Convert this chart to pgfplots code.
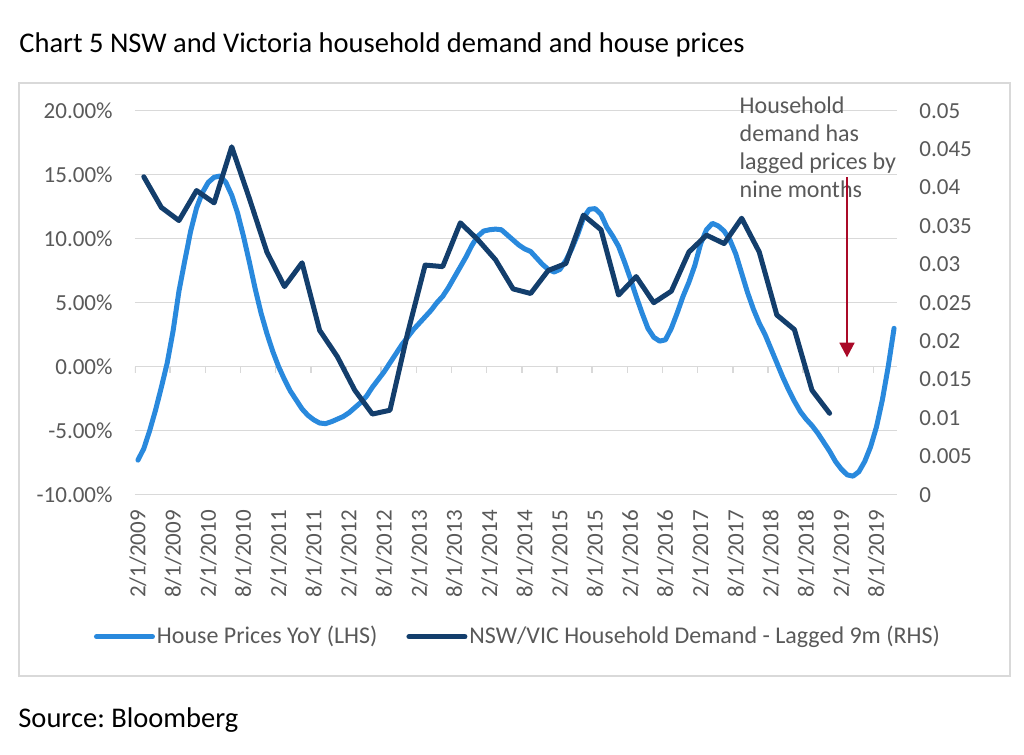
\documentclass[border=0pt]{standalone}
\usepackage{fontspec}
\setmainfont{Carlito}
\usepackage{pgfplots}
\pgfplotsset{compat=1.18}
\usetikzlibrary{arrows.meta}
\definecolor{lightblue}{RGB}{41,137,221}
\definecolor{darkblue}{RGB}{19,62,108}
\definecolor{gray59}{RGB}{89,89,89}
\definecolor{gridgray}{RGB}{217,217,217}
\definecolor{arrowred}{RGB}{170,10,40}

\pgfplotstableread{
m v
0 -7.3
1 -6.4
2 -5.0
3 -3.4
4 -1.6
5 0.3
6 2.8
7 5.9
8 8.3
9 10.6
10 12.4
11 13.6
12 14.4
13 14.8
14 14.9
15 14.4
16 13.4
17 12.0
18 10.2
19 8.2
20 6.1
21 4.2
22 2.6
23 1.2
24 0.0
25 -1.0
26 -1.9
27 -2.6
28 -3.3
29 -3.8
30 -4.15
31 -4.4
32 -4.45
33 -4.3
34 -4.1
35 -3.9
36 -3.6
37 -3.2
38 -2.8
39 -2.3
40 -1.6
41 -1.0
42 -0.4
43 0.3
44 1.0
45 1.7
46 2.3
47 2.9
48 3.4
49 3.9
50 4.4
51 5.0
52 5.5
53 6.2
54 7.0
55 7.8
56 8.6
57 9.5
58 10.2
59 10.6
60 10.7
61 10.75
62 10.7
63 10.3
64 9.9
65 9.5
66 9.2
67 9.0
68 8.5
69 8.0
70 7.6
71 7.4
72 7.6
73 8.3
74 9.2
75 10.3
76 11.6
77 12.3
78 12.35
79 11.9
80 10.9
81 10.2
82 9.4
83 8.2
84 6.9
85 5.5
86 4.2
87 3.0
88 2.3
89 2.0
90 2.1
91 3.0
92 4.2
93 5.5
94 6.6
95 7.9
96 9.6
97 10.7
98 11.2
99 11.0
100 10.6
101 9.9
102 8.8
103 7.3
104 5.8
105 4.5
106 3.4
107 2.5
108 1.4
109 0.3
110 -0.8
111 -1.8
112 -2.7
113 -3.5
114 -4.1
115 -4.6
116 -5.2
117 -5.9
118 -6.6
119 -7.4
120 -8.0
121 -8.45
122 -8.55
123 -8.2
124 -7.4
125 -6.25
126 -4.7
127 -2.6
128 0.0
129 3.0
}\houseprices

\pgfplotstableread{
m v
1 0.0414
4 0.0374
7 0.0357
10 0.0396
13 0.0380
16 0.0453
19 0.0386
22 0.0316
25 0.0271
28 0.0302
31 0.0214
34 0.0180
37 0.0136
40 0.0105
43 0.0110
46 0.0210
49 0.0299
52 0.0297
55 0.0354
58 0.0332
61 0.0306
64 0.0268
67 0.0262
70 0.0292
73 0.0301
76 0.0364
79 0.0345
82 0.0260
85 0.0284
88 0.0250
91 0.0265
94 0.0316
97 0.0338
100 0.0327
103 0.0360
106 0.0316
109 0.0234
112 0.0215
115 0.0136
118 0.0106
}\demand

\begin{document}
\frenchspacing
\begin{tikzpicture}
\path[use as bounding box] (0pt,0pt) rectangle (512pt,-377.5pt);
\draw[gridgray, line width=0.75pt] (9.5pt,-41.5pt) rectangle (505pt,-338pt);
\node[anchor=base west, inner sep=0pt, font=\fontsize{14.25}{17}\selectfont] at (9.5pt,-26.15pt) {Chart 5 NSW and Victoria household demand and house prices};
\node[anchor=base west, inner sep=0pt, font=\fontsize{14.25}{17}\selectfont] at (9pt,-363.75pt) {Source: Bloomberg};

\begin{axis}[
  at={(67.5pt,-247.35pt)}, anchor=south west,
  width=381pt, height=192pt, scale only axis,
  xmin=-0.5, xmax=129.5, ymin=-10, ymax=20,
  axis line style={draw=none},
  major tick length=0pt, tick style={draw=none},
  ymajorgrids, grid style={gridgray, line width=0.75pt},
  ytick={-10,-5,0,5,10,15,20},
  yticklabels={-10.00\%,-5.00\%,0.00\%,5.00\%,10.00\%,15.00\%,20.00\%},
  xtick={0,6,...,126},
  xticklabels={2/1/2009,8/1/2009,2/1/2010,8/1/2010,2/1/2011,8/1/2011,2/1/2012,8/1/2012,2/1/2013,8/1/2013,2/1/2014,8/1/2014,2/1/2015,8/1/2015,2/1/2016,8/1/2016,2/1/2017,8/1/2017,2/1/2018,8/1/2018,2/1/2019,8/1/2019},
  tick label style={font=\fontsize{11.5}{13}\selectfont, text=gray59, inner sep=0pt},
  xticklabel style={rotate=90, anchor=east},
  xticklabel shift=7.5pt,
  yticklabel shift=11pt,
  legend columns=2,
  legend style={at={(0.5026,-0.3698)}, anchor=center, draw=none, fill=none,
    font=\fontsize{12}{14}\selectfont, text=gray59, inner sep=0pt,
    nodes={inner sep=1pt},
    /tikz/every even column/.append style={column sep=13.5pt}},
  legend image code/.code={\draw[#1] (0pt,0pt) -- (28pt,0pt);},
]
\pgfplotsinvokeforeach{-0.5,5.5,...,125.5}{\draw[gridgray, line width=0.75pt] (axis cs:#1,0) -- ++(0pt,-3.3pt);}
\addplot[lightblue, line width=2.5pt, line join=round, line cap=round] table[x=m,y=v] {\houseprices};
\addlegendentry{House Prices YoY (LHS)}
\addlegendimage{darkblue, line width=2.5pt, line cap=round}
\addlegendentry{NSW/VIC Household Demand - Lagged 9m (RHS)}
\end{axis}

\begin{axis}[
  at={(67.5pt,-247.35pt)}, anchor=south west,
  width=381pt, height=192pt, scale only axis,
  xmin=-0.5, xmax=129.5, ymin=0, ymax=0.05,
  axis line style={draw=none},
  major tick length=0pt, tick style={draw=none},
  hide x axis,
  scaled y ticks=false,
  ytick pos=right, yticklabel pos=right,
  ytick={0,0.005,0.01,0.015,0.02,0.025,0.03,0.035,0.04,0.045,0.05},
  yticklabels={0,0.005,0.01,0.015,0.02,0.025,0.03,0.035,0.04,0.045,0.05},
  tick label style={font=\fontsize{11.5}{13}\selectfont, text=gray59, inner sep=0pt},
  yticklabel style={anchor=west},
  yticklabel shift=11pt,
]
\addplot[darkblue, line width=2.5pt, line join=round, line cap=round] table[x=m,y=v] {\demand};
\end{axis}

\node[anchor=base west, inner sep=0pt, text=gray59, font=\fontsize{12}{14}\selectfont] at (369.65pt,-56.65pt) {Household};
\node[anchor=base west, inner sep=0pt, text=gray59, font=\fontsize{12}{14}\selectfont] at (369.65pt,-70.65pt) {demand has};
\node[anchor=base west, inner sep=0pt, text=gray59, font=\fontsize{12}{14}\selectfont] at (369.65pt,-84.65pt) {lagged prices by};
\node[anchor=base west, inner sep=0pt, text=gray59, font=\fontsize{12}{14}\selectfont] at (369.65pt,-98.65pt) {nine months};
\draw[arrowred, line width=0.75pt, -{Triangle[width=7.5pt,length=7.3pt]}] (423.5pt,-88.65pt) -- (423.5pt,-178.65pt);
\end{tikzpicture}
\end{document}
